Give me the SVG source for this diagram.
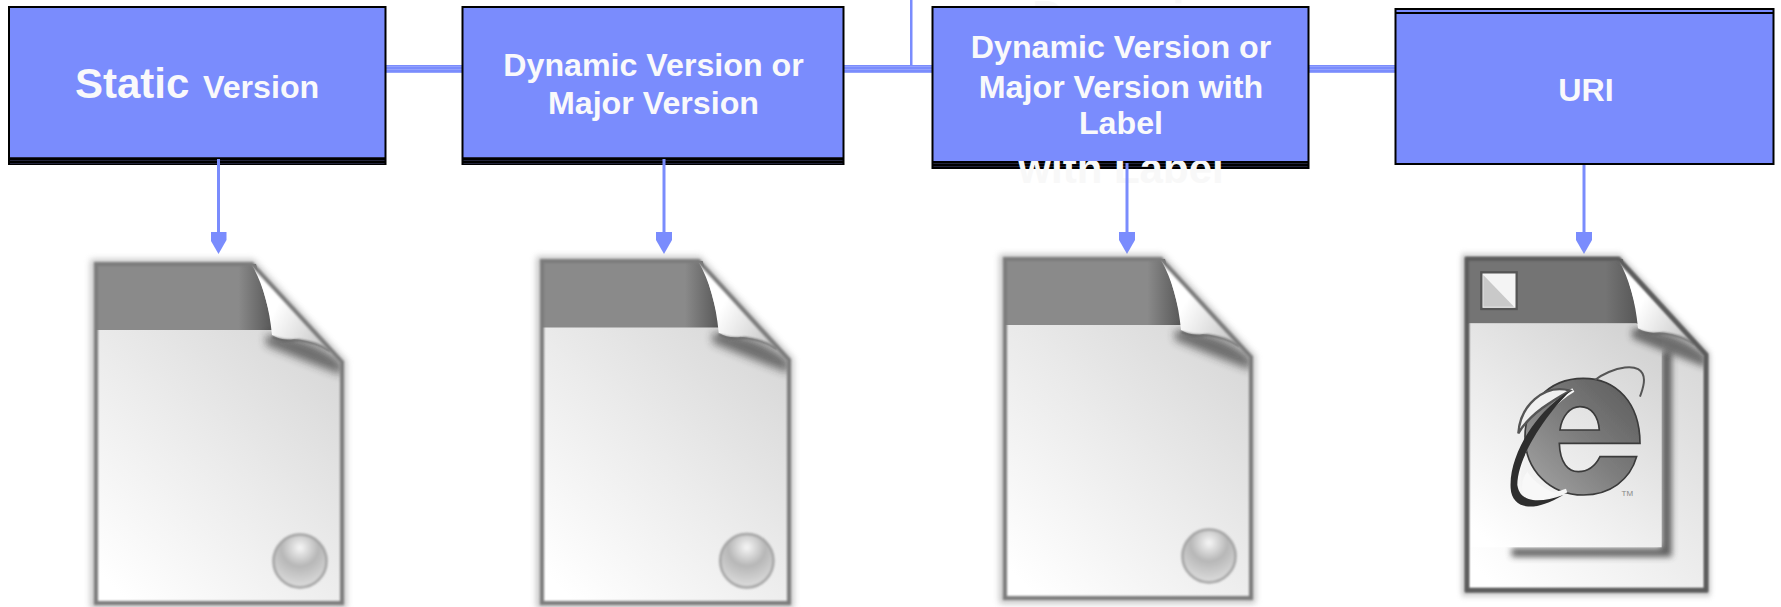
<svg xmlns="http://www.w3.org/2000/svg" width="1781" height="607" viewBox="0 0 1781 607">
<style>
.box{fill:#7a8cfd}
.edge{fill:none;stroke:#000;stroke-width:2}
.lbl{font-family:"Liberation Sans",Arial,sans-serif;font-weight:700;fill:#f9f9fb;text-anchor:middle;font-size:32.2px}
.ghost{font-family:"Liberation Sans",Arial,sans-serif;font-weight:700;fill:#f8f8f8;text-anchor:middle;font-size:42px}
.arrow{fill:none;stroke:#7a8cfd;stroke-width:3;marker-end:url(#head)}
</style>
<defs>
<marker id="head" markerUnits="userSpaceOnUse" markerWidth="22" markerHeight="16" refX="1" refY="8" orient="auto" viewBox="0 0 22 16">
<path d="M0,0H8L22,8L8,16H0Z" fill="#7a8cfd"/>
</marker>
<pattern id="band" width="4" height="3" patternUnits="userSpaceOnUse"><rect width="4" height="3" fill="#000"/><rect width="4" height="1" y="1" fill="#23253c"/></pattern>
<pattern id="wire" width="4" height="3" patternUnits="userSpaceOnUse"><rect width="4" height="3" fill="#7a8cfd"/><rect width="4" height="1" fill="#93a2fd"/></pattern>
<linearGradient id="page" x1="0.05" y1="1" x2="0.75" y2="0"><stop offset="0.04" stop-color="#ffffff"/><stop offset="0.5" stop-color="#ebebeb"/><stop offset="1" stop-color="#d4d4d4"/></linearGradient>
<linearGradient id="curl" x1="0" y1="0.1" x2="1" y2="0.7"><stop offset="0.35" stop-color="#fff"/><stop offset="1" stop-color="#c0c0c0"/></linearGradient>
<linearGradient id="head-shade" x1="0" y1="0" x2="1" y2="0"><stop offset="0.8" stop-color="#8a8a8a"/><stop offset="1" stop-color="#555"/></linearGradient>
<linearGradient id="head-shade-dark" x1="0" y1="0" x2="1" y2="0"><stop offset="0.8" stop-color="#747474"/><stop offset="1" stop-color="#555"/></linearGradient>
<linearGradient id="e-fill" x1="0" y1="1" x2="1" y2="0"><stop offset="0" stop-color="#a6a6a6"/><stop offset="0.5" stop-color="#7c7c7c"/><stop offset="1" stop-color="#5a5a5a"/></linearGradient>
<radialGradient id="ball" cx="0.5" cy="0.25" r="0.7"><stop offset="0" stop-color="#f6f6f6"/><stop offset="0.5" stop-color="#b7b7b7"/><stop offset="1" stop-color="#d8d8d8"/></radialGradient>
<filter id="b1" x="-10%" y="-10%" width="120%" height="120%"><feGaussianBlur stdDeviation="1.3"/></filter>
<filter id="b3" x="-20%" y="-20%" width="140%" height="140%"><feGaussianBlur stdDeviation="3"/></filter>
<filter id="b5" x="-40%" y="-80%" width="180%" height="260%"><feGaussianBlur stdDeviation="4"/></filter>
<filter id="b9" x="-20%" y="-20%" width="140%" height="140%"><feGaussianBlur stdDeviation="9"/></filter>
<clipPath id="sheet"><path d="M0,0H158L249,99V342H0Z"/></clipPath>
<g id="sheet-body">
<path d="M0,0H158L249,99V342H0Z" fill="none" stroke="#999" stroke-width="7" opacity=".6" filter="url(#b3)"/>
<path d="M2,1H158L248,99V340H2Z" fill="url(#page)"/>
<path d="M2,1H162L180,67H2Z" fill="url(#head-shade)"/>
<path d="M2,67H178" stroke="#b8b8b8" stroke-width="2" fill="none" filter="url(#b1)"/>
</g>
<g id="sheet-curl">
<g clip-path="url(#sheet)"><path d="M172,72Q215,72 248,100L248,112Q205,96 172,82Z" fill="#2a2a2a" opacity=".62" filter="url(#b5)"/></g>
<path d="M158,2Q174,30 178,72Q188,78 200,76Q228,78 248,98Z" fill="url(#curl)"/>
<path d="M178,74Q190,79 204,77Q222,79 236,88" fill="none" stroke="#555" stroke-width="2" opacity=".8" filter="url(#b1)"/>
<path d="M2,340V1H158L248,99V340Z" fill="none" stroke="#7c7c7c" stroke-width="4" filter="url(#b1)"/>
</g>
<g id="ball-mark"><circle cx="206" cy="298" r="26.500" fill="url(#ball)" stroke="#a3a3a3" stroke-width="2.500" filter="url(#b1)"/></g>
</defs>
<rect width="1781" height="607" fill="#fff"/>
<g id="connectors">
<rect x="385" y="65" width="78" height="8" fill="url(#wire)"/>
<rect x="843" y="65" width="90" height="8" fill="url(#wire)"/>
<rect x="1308" y="65" width="88" height="8" fill="url(#wire)"/>
<rect x="910" y="0" width="2.500" height="66" fill="#7a8cfd"/>
</g>
<g id="node-static">
<rect x="9" y="7" width="377" height="158" fill="url(#band)"/>
<rect class="box" x="10" y="8" width="375" height="149"/>
<path class="edge" d="M9,165V7H385.500V165"/>
<text class="lbl" x="75" y="98" style="text-anchor:start"><tspan style="font-size:42px">Static</tspan><tspan x="203">Version</tspan></text>
</g>
<g id="node-dynamic">
<rect x="462" y="7" width="382" height="158" fill="url(#band)"/>
<rect class="box" x="463" y="8" width="380" height="149"/>
<path class="edge" d="M462.500,165V7H843.500V165"/>
<text class="lbl" x="653.500" y="76">Dynamic Version or</text>
<text class="lbl" x="653.500" y="114">Major Version</text>
</g>
<text class="ghost" x="1120" y="30">Dynamic</text>
<g id="node-dynamic-label">
<rect x="932" y="7" width="377" height="162" fill="url(#band)"/>
<text class="ghost" x="1121" y="183">with Label</text>
<rect class="box" x="933" y="8" width="375" height="153"/>
<path class="edge" d="M932.500,169V7H1308.500V169"/>
<text class="lbl" x="1121" y="58">Dynamic Version or</text>
<text class="lbl" x="1121" y="98">Major Version with</text>
<text class="lbl" x="1121" y="134">Label</text>
</g>
<g id="node-uri">
<rect class="box" x="1396" y="9" width="377" height="155"/>
<rect x="1395.500" y="9" width="378" height="155" fill="none" stroke="#000" stroke-width="2"/>
<path d="M1396,13H1773" stroke="#000" stroke-width="2" fill="none"/>
<text class="lbl" x="1586" y="101">URI</text>
</g>
<g id="connectors-down">
<path class="arrow" d="M218.500,159V233"/>
<path class="arrow" d="M664,159V233"/>
<path class="arrow" d="M1127,163V233"/>
<path class="arrow" d="M1584,165V233"/>
</g>
<g id="doc-1" transform="translate(94,263)"><use href="#sheet-body"/><use href="#sheet-curl"/><use href="#ball-mark"/></g>
<g id="doc-2" transform="translate(540,260) scale(1.004,1.009)"><use href="#sheet-body"/><use href="#sheet-curl"/><use href="#ball-mark"/></g>
<g id="doc-3" transform="translate(1003,258)"><use href="#sheet-body"/><use href="#sheet-curl"/><use href="#ball-mark"/></g>
<g id="doc-4">
<g transform="translate(1465,258) scale(.972,.977)"><use href="#sheet-body"/><path d="M2,1H162L180,67H2Z" fill="url(#head-shade-dark)"/></g>
<g transform="translate(1440,240) scale(.3333)">
<path d="M665,335H695V950H215V925H665Z" fill="#444" opacity=".85" filter="url(#b9)"/>
<path d="M86,250H590L600,280Q640,285 665,300V922H86Z" fill="url(#page)"/>
<rect x="124" y="97" width="106" height="110" fill="#f4f4f4" stroke="#555" stroke-width="7"/>
<path d="M130,105L222,200H130Z" fill="#c9c9c9"/>
<g filter="url(#b1)">
<path d="M600,610C600,490 530,415 430,415C320,415 255,500 255,590C255,690 330,765 430,765C510,765 570,720 590,650H480C465,680 445,695 415,695C385,695 360,670 358,610ZM360,570C365,530 390,500 420,500C455,500 475,530 478,570Z" fill="url(#e-fill)" fill-rule="evenodd" stroke="#3a3a3a" stroke-width="5"/>
<path d="M400,450C300,510 230,640 236,735C240,770 300,780 380,752" fill="none" stroke="#f6f6f6" stroke-width="12"/>
<path d="M262,695C240,720 240,770 270,785C300,790 330,775 350,762C320,750 280,725 262,695Z" fill="#f8f8f8"/>
<path d="M235,580C240,500 310,430 390,452C340,480 270,520 235,580Z" fill="#f0f0f0" stroke="#555" stroke-width="7"/>
<path d="M392,452C300,500 205,640 212,745C215,800 270,825 370,765C300,790 240,790 232,735C232,650 320,520 392,452Z" fill="#2e2e2e"/>
<path d="M465,420C510,385 610,355 612,420C612,440 605,455 600,470" fill="none" stroke="#555" stroke-width="6"/>
</g>
<text x="562" y="768" font-family="Liberation Sans,Arial,sans-serif" font-size="24" fill="#888" text-anchor="middle">TM</text>
</g>
<g transform="translate(1465,258) scale(.972,.977)"><use href="#sheet-curl"/><path d="M2,340V1H158L248,99V340Z" fill="none" stroke="#5a5a5a" stroke-width="4" filter="url(#b1)"/><path d="M2,340H248" stroke="#555" stroke-width="7" fill="none" filter="url(#b1)"/></g>
</g>
</svg>
